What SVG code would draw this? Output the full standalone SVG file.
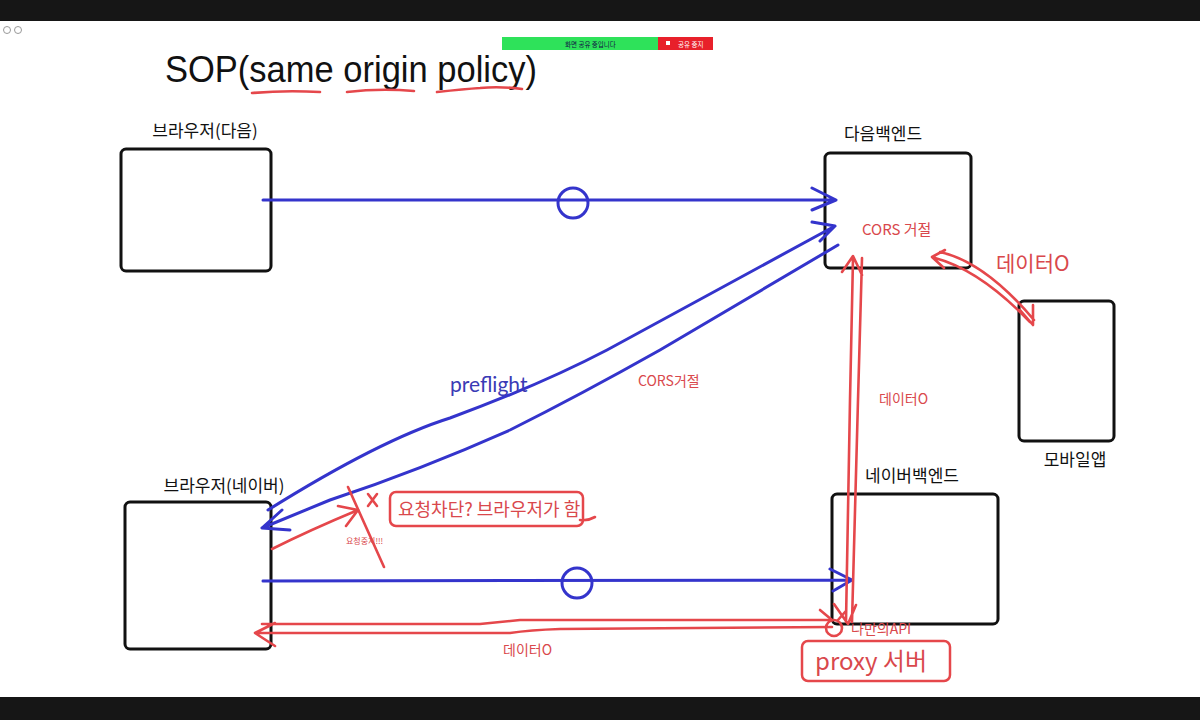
<svg xmlns="http://www.w3.org/2000/svg" width="1200" height="720" viewBox="0 0 1200 720">
<style>
.box{fill:none;stroke:#111;stroke-width:3}
.lbl{font-family:"Noto Sans CJK KR","Noto Sans",sans-serif;font-size:17px;fill:#111;text-anchor:middle}
.blue{fill:none;stroke:#3434cc;stroke-width:3;stroke-linecap:round;stroke-linejoin:round}
.red{fill:none;stroke:#e5474b;stroke-width:2.6;stroke-linecap:round;stroke-linejoin:round}
.rt{font-family:"Noto Sans CJK KR","Noto Sans",sans-serif;fill:#d9484c}
</style>
<rect x="0" y="0" width="1200" height="720" fill="#fff"/>
<rect x="0" y="0" width="1200" height="21" fill="#161616"/>
<rect x="0" y="697" width="1200" height="23" fill="#161616"/>
<circle cx="7" cy="30" r="3.5" fill="none" stroke="#999" stroke-width="1"/>
<circle cx="18" cy="30" r="3.5" fill="none" stroke="#999" stroke-width="1"/>
<g id="sharebar">
<rect x="502" y="37" width="156" height="13" fill="#2ee25a"/>
<rect x="658" y="37" width="55" height="13" fill="#e8202a"/>
<text x="565" y="46.5" font-family="Noto Sans CJK KR,sans-serif" font-size="6.5" fill="#114">화면 공유 중입니다</text>
<rect x="666" y="41" width="4" height="4" fill="#fff"/>
<text x="678" y="46.5" font-family="Noto Sans CJK KR,sans-serif" font-size="6.5" fill="#fff">공유 중지</text>
</g>
<g id="title">
<text x="165" y="82" font-family="Liberation Sans Narrow,Liberation Sans,sans-serif" font-size="36" fill="#111" textLength="372" lengthAdjust="spacingAndGlyphs">SOP(same origin policy)</text>
<path class="red" d="M252 93 Q285 90 320 92"/>
<path class="red" d="M347 92 Q380 88 414 91"/>
<path class="red" d="M437 92 Q465 89 480 88 Q500 86 522 89"/>
</g>
<g id="browser-daum"><rect class="box" x="121" y="149" width="150" height="122" rx="5"/><text class="lbl" x="205" y="137">브라우저(다음)</text></g>
<g id="daum-backend"><rect class="box" x="825" y="153" width="146" height="115" rx="5"/><text class="lbl" x="883" y="140">다음백엔드</text></g>
<g id="browser-naver"><rect class="box" x="125" y="502" width="146" height="147" rx="5"/><text class="lbl" x="224" y="492">브라우저(네이버)</text></g>
<g id="naver-backend"><rect class="box" x="832" y="494" width="166" height="130" rx="5"/><text class="lbl" x="912" y="482">네이버백엔드</text></g>
<g id="mobile-app"><rect class="box" x="1019" y="301" width="95" height="140" rx="5"/><text class="lbl" x="1075" y="466">모바일앱</text></g>
<g id="connectors">
<path class="blue" d="M263 200 L836 200 M812 188 L836 200 L812 210"/>
<ellipse class="blue" cx="573" cy="203" rx="15" ry="15"/>
<path class="blue" d="M263 581 L852 580 M830 569 L852 580 L833 591"/>
<ellipse class="blue" cx="577" cy="583" rx="15" ry="15"/>
<path class="blue" d="M268 510 Q380 440 450 418 Q540 385 607 350 L835 226 M812 222 L835 226 L820 241"/>
<path class="blue" d="M838 245 L660 350 Q580 395 510 430 Q420 470 330 500 L262 528 M282 510 L262 528 L290 530"/>
<path class="red" d="M272 549 Q310 530 358 510 M338 506 L358 510 L346 526"/>
<path class="red" d="M348 487 L384 567"/>
<path class="red" d="M368 494 L377 506 M377 494 L368 506"/>
<path class="red" d="M853 258 L850 400 L846 622 M862 258 L858 400 L852 622 M842 272 L853 256 L862 275 M834 604 L848 624 L856 605"/>
<path class="red" d="M935 258 Q980 270 1030 322 M940 252 Q985 262 1034 320 M945 250 L932 257 L944 268 M1020 310 L1033 325 L1033 305"/>
<path class="red" d="M258 633 L510 633 Q530 630 560 629 L832 627 M262 624 L480 624 Q500 622 520 620 L832 620 M275 623 L255 633 L275 646"/>
<circle class="red" cx="834" cy="628" r="8"/>
<path class="red" d="M820 610 L832 620 M845 612 L838 620"/>
</g>
<g id="labels">
<text x="450" y="392" font-family="Lato,Noto Sans,sans-serif" font-size="21" fill="#3a3ab5">preflight</text>
<text class="rt" x="638" y="386" font-size="14">CORS거절</text>
<text class="rt" x="862" y="235" font-size="15">CORS 거절</text>
<text class="rt" x="996" y="271" font-size="21">데이터O</text>
<text class="rt" x="879" y="404" font-size="14">데이터O</text>
<text class="rt" x="503" y="655" font-size="14">데이터O</text>
<text class="rt" x="851" y="634" font-size="14">나만의API</text>
<text class="rt" x="346" y="544" font-size="8">요청중지!!!</text>
<rect x="390" y="492" width="193" height="34" rx="6" fill="none" stroke="#e5474b" stroke-width="2.5"/>
<path class="red" d="M580 520 Q588 521 595 517"/>
<text class="rt" x="398" y="516" font-size="18">요청차단? 브라우저가 함</text>
<rect x="802" y="641" width="148" height="40" rx="6" fill="none" stroke="#e5474b" stroke-width="2.5"/>
<text class="rt" x="815" y="670" font-size="24">proxy 서버</text>
</g>
</svg>
